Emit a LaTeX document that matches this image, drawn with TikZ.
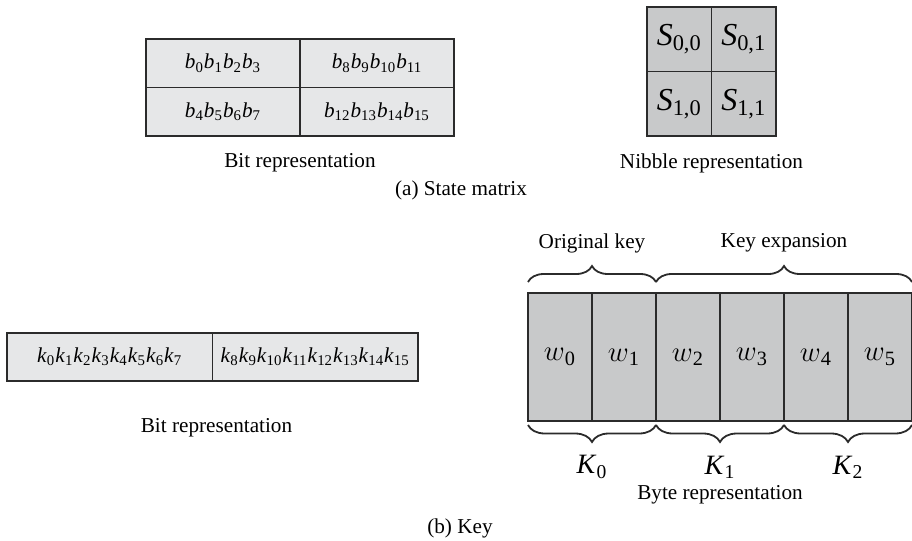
\documentclass[tikz,border=0pt]{standalone}
\usepackage{fontspec}
\setmainfont{Liberation Serif}
\usetikzlibrary{positioning,calc,decorations.pathreplacing}
\definecolor{cellL}{HTML}{E6E7E8}
\definecolor{cellD}{HTML}{C8C9CA}
\definecolor{rule}{HTML}{2B2B2B}
\newcommand{\isub}[2]{\textit{#1}\textsubscript{#2}}

\begin{document}
\begin{tikzpicture}[x=0.5pt, y=-0.5pt,
  every node/.style={font=\fontsize{10.6}{13}\selectfont},
  cellbox/.style={rectangle, draw=rule, line width=0.7pt, inner sep=0pt, outer sep=0pt},
  bitcell/.style={cellbox, fill=cellL, minimum width=77pt, minimum height=24.25pt},
  nibcell/.style={cellbox, fill=cellD, minimum width=32.25pt, minimum height=32.25pt,
                  font=\fontsize{16}{19}\selectfont},
  keycell/.style={cellbox, fill=cellL, minimum width=102.75pt, minimum height=24pt},
  wordcell/.style={cellbox, fill=cellD, minimum width=32pt, minimum height=64pt,
                   font=\fontsize{14.5}{17}\selectfont},
  lbl/.style={inner sep=0pt},
  klbl/.style={inner sep=0pt, font=\fontsize{14}{17}\selectfont},
  topbrace/.style={decorate, line width=0.9pt, rule,
                   decoration={brace, amplitude=8pt, raise=5.5pt}},
  botbrace/.style={decorate, line width=0.9pt, rule,
                   decoration={brace, amplitude=8.5pt, raise=2pt}}
]
  \useasboundingbox (0,0) rectangle (912,541);
  % (a) state matrix
  \node[bitcell] (b00) at (223,63.25) {\isub{b}{0}\isub{b}{1}\isub{b}{2}\isub{b}{3}};
  \node[bitcell, right=0pt of b00] (b01) {\isub{b}{8}\isub{b}{9}\isub{b}{10}\isub{b}{11}};
  \node[bitcell, below=0pt of b00] (b10) {\isub{b}{4}\isub{b}{5}\isub{b}{6}\isub{b}{7}};
  \node[bitcell, right=0pt of b10] (b11) {\isub{b}{12}\isub{b}{13}\isub{b}{14}\isub{b}{15}};
  \node[lbl] (bitcap) at ($(b10.south east)+(0,27)$) {Bit representation};

  \node[nibcell] (s00) at (679.25,39.25) {\isub{S}{0,0}};
  \node[nibcell, right=0pt of s00] (s01) {\isub{S}{0,1}};
  \node[nibcell, below=0pt of s00] (s10) {\isub{S}{1,0}};
  \node[nibcell, right=0pt of s10] (s11) {\isub{S}{1,1}};
  \node[lbl] (nibcap) at ($(s10.south east)+(0,27)$) {Nibble representation};

  \node[lbl] (capa) at (461,190) {(a) State matrix};

  % (b) key
  \node[keycell] (k0) at (109.75,357)
       {\isub{k}{0}\isub{k}{1}\isub{k}{2}\isub{k}{3}\isub{k}{4}\isub{k}{5}\isub{k}{6}\isub{k}{7}};
  \node[keycell, right=0pt of k0] (k1)
       {\isub{k}{8}\isub{k}{9}\isub{k}{10}\isub{k}{11}\isub{k}{12}\isub{k}{13}\isub{k}{14}\isub{k}{15}};
  \node[lbl] (keybitcap) at ($(k0.south east)+(4,47)$) {Bit representation};

  \node[wordcell] (w0) at (560,357) {$w$\textsubscript{0}};
  \node[wordcell, right=0pt of w0] (w1) {$w$\textsubscript{1}};
  \node[wordcell, right=0pt of w1] (w2) {$w$\textsubscript{2}};
  \node[wordcell, right=0pt of w2] (w3) {$w$\textsubscript{3}};
  \node[wordcell, right=0pt of w3] (w4) {$w$\textsubscript{4}};
  \node[wordcell, right=0pt of w4] (w5) {$w$\textsubscript{5}};

  \draw[topbrace] (w0.north west) -- (w1.north east);
  \draw[topbrace] (w1.north east) -- (w5.north east);
  \node[lbl] (origkey) at ($(w0.north west)!0.5!(w1.north east)+(0,-50)$) {Original key};
  \node[lbl] (keyexp) at ($(w1.north east)!0.5!(w5.north east)+(0,-50)$) {Key expansion};

  \draw[botbrace] (w1.south east) -- (w0.south west);
  \draw[botbrace] (w3.south east) -- (w2.south west);
  \draw[botbrace] (w5.south east) -- (w4.south west);
  \node[klbl] (K0) at ($(w0.south west)!0.5!(w1.south east)+(0,46)$) {\isub{K}{0}};
  \node[klbl] (K1) at ($(w2.south west)!0.5!(w3.south east)+(0,46)$) {\isub{K}{1}};
  \node[klbl] (K2) at ($(w4.south west)!0.5!(w5.south east)+(0,46)$) {\isub{K}{2}};
  \node[lbl] (bytecap) at ($(w2.south east)+(0,74)$) {Byte representation};

  \node[lbl] (capb) at (460,528) {(b) Key};
\end{tikzpicture}
\end{document}
